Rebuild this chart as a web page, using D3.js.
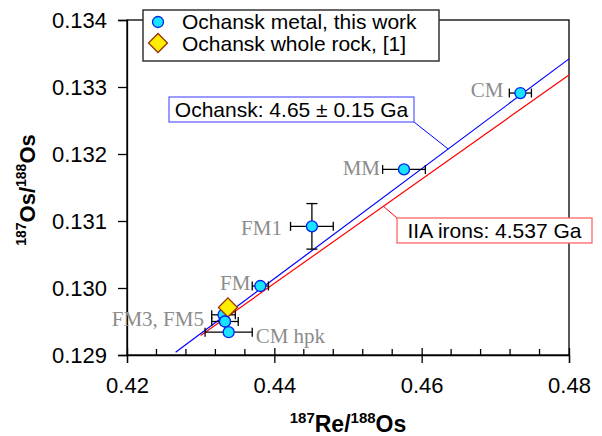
<!DOCTYPE html>
<html>
<head>
<meta charset="utf-8">
<script src="https://cdn.jsdelivr.net/npm/d3@7"></script>
<style>
  body { margin: 0; background: #fff; }
  svg text { font-family: "Liberation Sans", Arial, sans-serif; }
</style>
</head>
<body>
<svg id="chart"></svg>
<script>
var width = 602, height = 436;

// Ochansk metal fractions (this work)
var sampleNames = ["CM", "MM", "FM1", "FM", "FM3", "FM5", "CM hpk"];
var reOs  = [0.4734, 0.4576, 0.4451, 0.4381, 0.4331, 0.4333, 0.4338];
var osOs  = [0.13291, 0.13177, 0.13092, 0.13003, 0.12960, 0.12950, 0.12934];
var reErr = [0.0015, 0.0029, 0.0029, 0.0011, 0.0016, 0.0018, 0.0032];
var osErr = [0, 0, 0.00034, 0, 0, 0, 0];

// whole rock [1]
var wrReOs = [0.4337];
var wrOsOs = [0.12971];

// isochrons (end points)
var ochanskLineX = [0.4266, 0.48];
var ochanskLineY = [0.12904, 0.13342];
var iiaLineX = [0.4300, 0.48];
var iiaLineY = [0.12929, 0.13318];

var xTicks = [0.42, 0.44, 0.46, 0.48];
var yTicks = [0.129, 0.130, 0.131, 0.132, 0.133, 0.134];

var x = d3.scaleLinear().domain([0.42, 0.48]).range([127, 569]);
var y = d3.scaleLinear().domain([0.129, 0.134]).range([355, 20]);

var svg = d3.select("#chart").attr("width", width).attr("height", height);

// frame
svg.append("rect")
   .attr("x", x(0.42)).attr("y", y(0.134))
   .attr("width", x(0.48) - x(0.42)).attr("height", y(0.129) - y(0.134))
   .attr("fill", "none").attr("stroke", "#000").attr("stroke-width", 1.3);

// y axis
var yAxis = d3.axisLeft(y).tickValues(yTicks).tickSize(9).tickFormat(d3.format(".3f"));
var gy = svg.append("g").attr("transform", "translate(" + x(0.42) + ",0)").call(yAxis);
gy.select(".domain").attr("stroke-width", 1.3);
gy.selectAll("line").attr("stroke-width", 1.3);
gy.selectAll("text").style("font-size", "22px").attr("x", -20).attr("fill", "#000");

// x axis minor ticks (inside)
var minor = d3.range(0.424, 0.48, 0.004).filter(function(v){ return Math.abs(v/0.02 - Math.round(v/0.02)) > 1e-6; });
svg.selectAll(".minor").data(minor).enter().append("line")
   .attr("class", "minor")
   .attr("x1", d => x(d)).attr("x2", d => x(d))
   .attr("y1", y(0.129)).attr("y2", y(0.129) - 6)
   .attr("stroke", "#000").attr("stroke-width", 1.3);

var xAxis = d3.axisBottom(x).tickValues(xTicks).tickSize(8).tickFormat(d3.format(".2f"));
var gx = svg.append("g").attr("transform", "translate(0," + y(0.129) + ")").call(xAxis);
gx.select(".domain").attr("stroke-width", 1.3);
gx.selectAll(".tick line").attr("y1", -7).attr("stroke-width", 1.3);
gx.selectAll("text").style("font-size", "22px").attr("y", 22).attr("fill", "#000");

// axis titles
var xt = svg.append("text").attr("x", 348).attr("y", 432).attr("text-anchor", "middle")
            .style("font-weight", "bold").style("font-size", "23px");
xt.append("tspan").text("187").style("font-size", "15px").attr("dy", -9);
xt.append("tspan").text("Re/").attr("dy", 9);
xt.append("tspan").text("188").style("font-size", "15px").attr("dy", -9);
xt.append("tspan").text("Os").attr("dy", 9);

var yt = svg.append("text").attr("transform", "translate(35,190) rotate(-90)").attr("text-anchor", "middle")
            .style("font-weight", "bold").style("font-size", "22px");
yt.append("tspan").text("187").style("font-size", "14px").attr("dy", -9);
yt.append("tspan").text("Os/").attr("dy", 9);
yt.append("tspan").text("188").style("font-size", "14px").attr("dy", -9);
yt.append("tspan").text("Os").attr("dy", 9);

// isochron lines
var line = d3.line().x(d => x(d[0])).y(d => y(d[1]));
svg.append("path").datum(d3.zip(iiaLineX, iiaLineY)).attr("d", line)
   .attr("fill", "none").attr("stroke", "#ff0000").attr("stroke-width", 1.2);
svg.append("path").datum(d3.zip(ochanskLineX, ochanskLineY)).attr("d", line)
   .attr("fill", "none").attr("stroke", "#0000ff").attr("stroke-width", 1.2);

function onLine(lx, ly, xv){
    return ly[0] + (ly[1] - ly[0]) * (xv - lx[0]) / (lx[1] - lx[0]);
}

// age labels with leaders
var xb = 0.4636, xr = 0.4548;
svg.append("line").attr("x1", 414).attr("y1", 122)
   .attr("x2", x(xb)).attr("y2", y(onLine(ochanskLineX, ochanskLineY, xb)))
   .attr("stroke", "#0000ff").attr("stroke-width", 1);
svg.append("rect").attr("x", 169).attr("y", 97).attr("width", 245).attr("height", 25)
   .attr("fill", "#fff").attr("stroke", "#6666ff").attr("stroke-width", 1.3);
svg.append("text").attr("x", 291.5).attr("y", 117).attr("text-anchor", "middle")
   .style("font-size", "21px").text("Ochansk: 4.65 \u00b1 0.15 Ga");

svg.append("line").attr("x1", 397).attr("y1", 218)
   .attr("x2", x(xr)).attr("y2", y(onLine(iiaLineX, iiaLineY, xr)))
   .attr("stroke", "#ff0000").attr("stroke-width", 1);
svg.append("rect").attr("x", 397).attr("y", 218).attr("width", 195).attr("height", 25)
   .attr("fill", "#fff").attr("stroke", "#ff6666").attr("stroke-width", 1.3);
svg.append("text").attr("x", 494.5).attr("y", 238).attr("text-anchor", "middle")
   .style("font-size", "21px").text("IIA irons: 4.537 Ga");

// error bars
var pts = sampleNames.map(function(n, i){
    return {name: n, x: reOs[i], y: osOs[i], ex: reErr[i], ey: osErr[i]};
});
var cap = 4.5;
var eb = svg.append("g").attr("stroke", "#000").attr("stroke-width", 1.3);
pts.forEach(function(d){
    var cx = x(d.x), cy = y(d.y);
    if (d.ex > 0) {
        var x0 = x(d.x - d.ex), x1 = x(d.x + d.ex);
        eb.append("line").attr("x1", x0).attr("x2", x1).attr("y1", cy).attr("y2", cy);
        eb.append("line").attr("x1", x0).attr("x2", x0).attr("y1", cy - cap).attr("y2", cy + cap);
        eb.append("line").attr("x1", x1).attr("x2", x1).attr("y1", cy - cap).attr("y2", cy + cap);
    }
    if (d.ey > 0) {
        var y0 = y(d.y - d.ey), y1 = y(d.y + d.ey);
        eb.append("line").attr("x1", cx).attr("x2", cx).attr("y1", y0).attr("y2", y1);
        eb.append("line").attr("x1", cx - cap - 1).attr("x2", cx + cap + 1).attr("y1", y0).attr("y2", y0);
        eb.append("line").attr("x1", cx - cap - 1).attr("x2", cx + cap + 1).attr("y1", y1).attr("y2", y1);
    }
});

var cyanFill = "#19e3ff", blueStroke = "#0022ee";
var yellowFill = "#ffee00", brownStroke = "#993300";
var diamond = d3.symbol().type(d3.symbolSquare).size(180);

// metal points
svg.selectAll(".pt").data(pts).enter().append("circle")
   .attr("class", "pt")
   .attr("cx", d => x(d.x)).attr("cy", d => y(d.y)).attr("r", 5.5)
   .attr("fill", cyanFill).attr("stroke", blueStroke).attr("stroke-width", 1.3);

// whole rock diamond
svg.selectAll(".wr").data(d3.zip(wrReOs, wrOsOs)).enter().append("path")
   .attr("class", "wr").attr("d", diamond)
   .attr("transform", d => "translate(" + x(d[0]) + "," + y(d[1]) + ") rotate(45)")
   .attr("fill", yellowFill).attr("stroke", brownStroke).attr("stroke-width", 1.3);

// FM5 drawn above the diamond, as in the original
svg.append("circle").datum(pts[5])
   .attr("cx", d => x(d.x)).attr("cy", d => y(d.y)).attr("r", 5.5)
   .attr("fill", cyanFill).attr("stroke", blueStroke).attr("stroke-width", 1.3);

// sample labels
var labelText = ["CM", "MM", "FM1", "FM", "FM3, FM5", "CM hpk"];
var labelOf = ["CM", "MM", "FM1", "FM", "FM5", "CM hpk"];
var labelPos = {
    "CM": [-17, 4, "end"], "MM": [-24, 6, "end"], "FM1": [-30, 9, "end"],
    "FM": [-10, 4, "end"], "FM5": [-21, 4, "end"], "CM hpk": [27, 11, "start"]
};
labelText.forEach(function(t, i){
    var p = pts[sampleNames.indexOf(labelOf[i])];
    var o = labelPos[labelOf[i]];
    svg.append("text").attr("x", x(p.x) + o[0]).attr("y", y(p.y) + o[1])
       .attr("text-anchor", o[2]).attr("fill", "#8c8c8c")
       .style("font-family", "'Liberation Serif', 'Times New Roman', serif")
       .style("font-size", "21px").text(t);
});

// legend
var lg = svg.append("g");
lg.append("rect").attr("x", 143).attr("y", 10).attr("width", 296).attr("height", 51)
  .attr("fill", "#fff").attr("stroke", "#333").attr("stroke-width", 1.5);
lg.append("circle").attr("cx", 158).attr("cy", 22).attr("r", 5.5)
  .attr("fill", cyanFill).attr("stroke", blueStroke).attr("stroke-width", 1.3);
lg.append("path").attr("d", diamond).attr("transform", "translate(158,43) rotate(45)")
  .attr("fill", yellowFill).attr("stroke", brownStroke).attr("stroke-width", 1.3);
lg.append("text").attr("x", 182).attr("y", 29).style("font-size", "21px").text("Ochansk metal, this work");
lg.append("text").attr("x", 182).attr("y", 51).style("font-size", "21px").text("Ochansk whole rock, [1]");
</script>
</body>
</html>
